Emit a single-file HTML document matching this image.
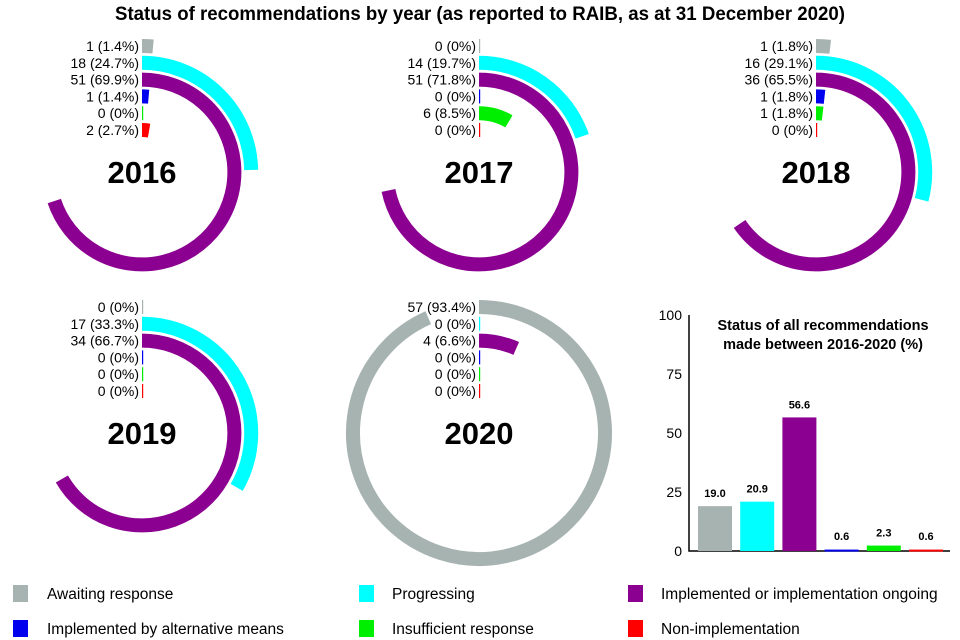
<!DOCTYPE html>
<html><head><meta charset="utf-8"><style>
html,body{margin:0;padding:0;background:#fff;}
svg{display:block;font-family:"Liberation Sans",Arial,sans-serif;}
</style></head><body>
<svg id="chart" width="960" height="640" viewBox="0 0 960 640" xmlns="http://www.w3.org/2000/svg">
<text x="480" y="20" text-anchor="middle" font-size="19" font-weight="bold" textLength="730" lengthAdjust="spacingAndGlyphs">Status of recommendations by year (as reported to RAIB, as at 31 December 2020)</text>
<g id="radials"></g>
<g id="bars"></g>
<g id="legend"></g>
</svg>
<script>
const years = ["2016","2017","2018","2019","2020"];
const counts2016 = [1,18,51,1,0,2];
const pcts2016 = [1.4,24.7,69.9,1.4,0,2.7];
const counts2017 = [0,14,51,0,6,0];
const pcts2017 = [0,19.7,71.8,0,8.5,0];
const counts2018 = [1,16,36,1,1,0];
const pcts2018 = [1.8,29.1,65.5,1.8,1.8,0];
const counts2019 = [0,17,34,0,0,0];
const pcts2019 = [0,33.3,66.7,0,0,0];
const counts2020 = [57,0,4,0,0,0];
const pcts2020 = [93.4,0,6.6,0,0,0];
const statusNames = ["Awaiting response","Progressing","Implemented or implementation ongoing","Implemented by alternative means","Insufficient response","Non-implementation"];
const overallPct = [19.0,20.9,56.6,0.6,2.3,0.6];
const overallLabels = ["19.0","20.9","56.6","0.6","2.3","0.6"];
const yTicks = [0,25,50,75,100];

const colors = ["#a6b3b0","#00ffff","#8b0090","#0000ee","#00ee00","#ff0000"];
const NS="http://www.w3.org/2000/svg";
function mk(tag,attrs,parent){const e=document.createElementNS(NS,tag);for(const k in attrs)e.setAttribute(k,attrs[k]);parent.appendChild(e);return e;}

const allCounts=[counts2016,counts2017,counts2018,counts2019,counts2020];
const allPcts=[pcts2016,pcts2017,pcts2018,pcts2019,pcts2020];
const centers=[[142,172],[479,172],[816,172],[142,433],[479,433]];
const R0=126, pitch=16.8, thick=14;
const rad=document.getElementById('radials');
function angleOf(p){return p/100*2*Math.PI;}
years.forEach((yr,yi)=>{
  const [cx,cy]=centers[yi];
  const g=mk('g',{},rad);
  
  
  allPcts[yi].forEach((p,si)=>{
    const r=R0-si*pitch;
    const ty=cy-r;
    if(p>0){
      const a=Math.min(angleOf(p),2*Math.PI-0.0001);
      const x1=cx, y1=cy-r;
      const x2=cx+r*Math.sin(a), y2=cy-r*Math.cos(a);
      const large=a>Math.PI?1:0;
      const path=mk('path',{d:`M${x1},${y1} A${r},${r} 0 ${large} 1 ${x2},${y2}`,fill:'none',stroke:colors[si],'stroke-width':thick},g);
      
      
    } else {
      const l=mk('rect',{x:cx,y:ty-thick/2,width:1.2,height:thick,fill:colors[si]},g);
      
      
    }
    const t=mk('text',{x:cx-3,y:ty+5,'text-anchor':'end','font-size':'14'},g);
    t.textContent=allCounts[yi][si]+' ('+p+'%)';
    
    
  });
  const yt=mk('text',{x:cx,y:cy+11,'text-anchor':'middle','font-size':'31','font-weight':'bold'},g);
  yt.textContent=yr;
  
  
});

// bar chart
const bars=document.getElementById('bars');
const y0=551, y100=315, axX=689;
function yS(v){return y0-(v/100)*(y0-y100);}
function xS(i){return 698+i*42.2;}
const ax=mk('path',{d:`M${axX},${y100} V${y0} H950`,fill:'none',stroke:'#000','stroke-width':1.5},bars);


yTicks.forEach(v=>{
  const t=mk('text',{x:axX-7,y:yS(v)+5,'text-anchor':'end','font-size':'14'},bars);
  t.textContent=v;
  
  
});
const bt1=mk('text',{x:823,y:330,'text-anchor':'middle','font-size':'14.5','font-weight':'bold'},bars);
bt1.textContent='Status of all recommendations';


const bt2=mk('text',{x:823,y:349,'text-anchor':'middle','font-size':'14.5','font-weight':'bold'},bars);
bt2.textContent='made between 2016-2020 (%)';


overallPct.forEach((v,i)=>{
  const top=yS(v);
  const r=mk('rect',{x:xS(i),y:top,width:34,height:Math.max(y0-top,2),fill:colors[i]},bars);
  
  
  const t=mk('text',{x:xS(i)+17,y:Math.min(top,y0-2)-9,'text-anchor':'middle','font-size':'11','font-weight':'bold'},bars);
  t.textContent=overallLabels[i];
  
  
});

// legend
const leg=document.getElementById('legend');
const lpos=[[13,585],[359,585],[628,585],[13,620],[359,620],[628,620]];
statusNames.forEach((n,i)=>{
  const [x,y]=lpos[i];
  const g=mk('g',{},leg);
  
  
  mk('rect',{x:x,y:y,width:15,height:17,fill:colors[i]},g);
  const t=mk('text',{x:x+(i%3===0?34:33),y:y+14,'font-size':'15.5'},g);
  t.textContent=n;
});
</script>
</body></html>
